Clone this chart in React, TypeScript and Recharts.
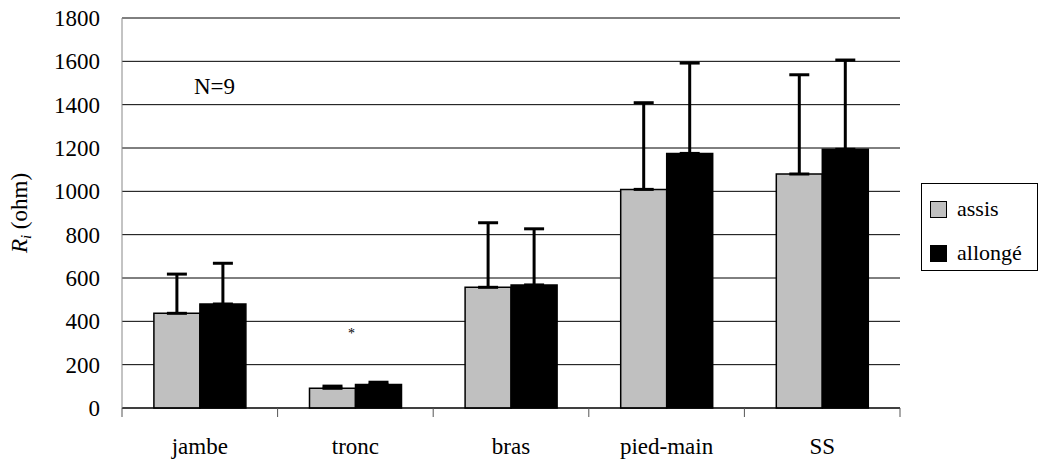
import React from "react";
import {
    BarChart,
    Bar,
    XAxis,
    YAxis,
    CartesianGrid,
    ErrorBar,
} from "recharts";

const categories = ["jambe", "tronc", "bras", "pied-main", "SS"];
const assis = [437, 91, 557, 1009, 1080];
const allonge = [480, 109, 568, 1175, 1194];
const assisSd = [181, 10, 298, 400, 458];
const allongeSd = [188, 10, 259, 417, 412];
const yTicks = [0, 200, 400, 600, 800, 1000, 1200, 1400, 1600, 1800];

const data = categories.map((name, i) => ({
    name,
    assis: assis[i],
    allonge: allonge[i],
    assisErr: [0, assisSd[i]],
    allongeErr: [0, allongeSd[i]],
}));

const FONT = '"Liberation Serif", "DejaVu Serif", "Noto Serif", Georgia, serif';
const HALF_BAND = 778 / categories.length / 2;

const XTick = (props: any) => {
    const { x, y, payload, index } = props;
    return (
        <g>
            <line x1={x - HALF_BAND} x2={x - HALF_BAND} y1={y} y2={y + 9} stroke="#555" />
            {index === categories.length - 1 && (
                <line x1={x + HALF_BAND} x2={x + HALF_BAND} y1={y} y2={y + 9} stroke="#555" />
            )}
            <text x={x} y={y + 46} textAnchor="middle" fontFamily={FONT} fontSize={23} fill="#000">
                {payload.value}
            </text>
        </g>
    );
};

const YTick = (props: any) => {
    const { x, y, payload } = props;
    return (
        <text x={x} y={y + 8} textAnchor="end" fontFamily={FONT} fontSize={23} fill="#000">
            {payload.value}
        </text>
    );
};

const YLabel = (props: any) => {
    const { viewBox } = props;
    const cy = viewBox.y + viewBox.height / 2;
    const cx = 27;
    return (
        <text
            x={cx}
            y={cy}
            transform={`rotate(-90, ${cx}, ${cy})`}
            textAnchor="middle"
            fontFamily={FONT}
            fontSize={23}
            fill="#000"
        >
            <tspan fontStyle="italic">R</tspan>
            <tspan fontStyle="italic" fontSize={15} dy={4}>i</tspan>
            <tspan dy={-4}> (ohm)</tspan>
        </text>
    );
};

const legendItems = [
    { label: "assis", fill: "#C0C0C0" },
    { label: "allongé", fill: "#000" },
];

export default function App() {
    return (
        <div style={{ position: "absolute", left: 0, top: 0, width: 1039, height: 471, background: "#fff" }}>
            <BarChart
                width={1039}
                height={471}
                data={data}
                margin={{ top: 18, right: 139, bottom: 0, left: 0 }}
                barCategoryGap="20.5%"
                barGap={0}
            >
                <CartesianGrid vertical={false} stroke="#000" strokeWidth={1} />
                <XAxis
                    dataKey="name"
                    height={63}
                    axisLine={{ stroke: "#000" }}
                    tickLine={false}
                    tickSize={0}
                    tickMargin={0}
                    tick={<XTick />}
                    interval={0}
                />
                <XAxis xAxisId="top" orientation="top" dataKey="name" height={0} tick={false} tickLine={false} axisLine={{ stroke: "#888" }} />
                <YAxis
                    width={122}
                    domain={[0, 1800]}
                    ticks={yTicks}
                    interval={0}
                    axisLine={{ stroke: "#888" }}
                    tickLine={false}
                    tickSize={0}
                    tickMargin={22}
                    tick={<YTick />}
                    label={<YLabel />}
                />
                <YAxis yAxisId="right" orientation="right" width={0} domain={[0, 1800]} tick={false} tickLine={false} axisLine={{ stroke: "#888" }} />
                <Bar dataKey="assis" name="assis" fill="#C0C0C0" stroke="#000" strokeWidth={1.5} isAnimationActive={false}>
                    <ErrorBar dataKey="assisErr" direction="y" width={10} stroke="#000" strokeWidth={3} />
                </Bar>
                <Bar dataKey="allonge" name="allongé" fill="#000" stroke="#000" strokeWidth={1.5} isAnimationActive={false}>
                    <ErrorBar dataKey="allongeErr" direction="y" width={10} stroke="#000" strokeWidth={3} />
                </Bar>
            </BarChart>
            <div
                style={{
                    position: "absolute",
                    left: 921,
                    top: 183,
                    width: 117,
                    height: 88,
                    border: "1px solid #000",
                    background: "#fff",
                    boxSizing: "border-box",
                    fontFamily: FONT,
                    fontSize: 22,
                    padding: "10px 0 0 8px",
                }}
            >
                {legendItems.map((it) => (
                    <div key={it.label} style={{ display: "flex", alignItems: "center", height: 30, marginBottom: 14 }}>
                        <span
                            style={{
                                width: 17,
                                height: 17,
                                background: it.fill,
                                border: "1.5px solid #000",
                                boxSizing: "border-box",
                                marginRight: 10,
                            }}
                        />
                        <span style={{ lineHeight: "22px" }}>{it.label}</span>
                    </div>
                ))}
            </div>
            <div style={{ position: "absolute", left: 194, top: 74, fontFamily: FONT, fontSize: 23, color: "#000" }}>N=9</div>
            <div style={{ position: "absolute", left: 348, top: 326, fontFamily: FONT, fontSize: 14, color: "#000" }}>*</div>
        </div>
    );
}
